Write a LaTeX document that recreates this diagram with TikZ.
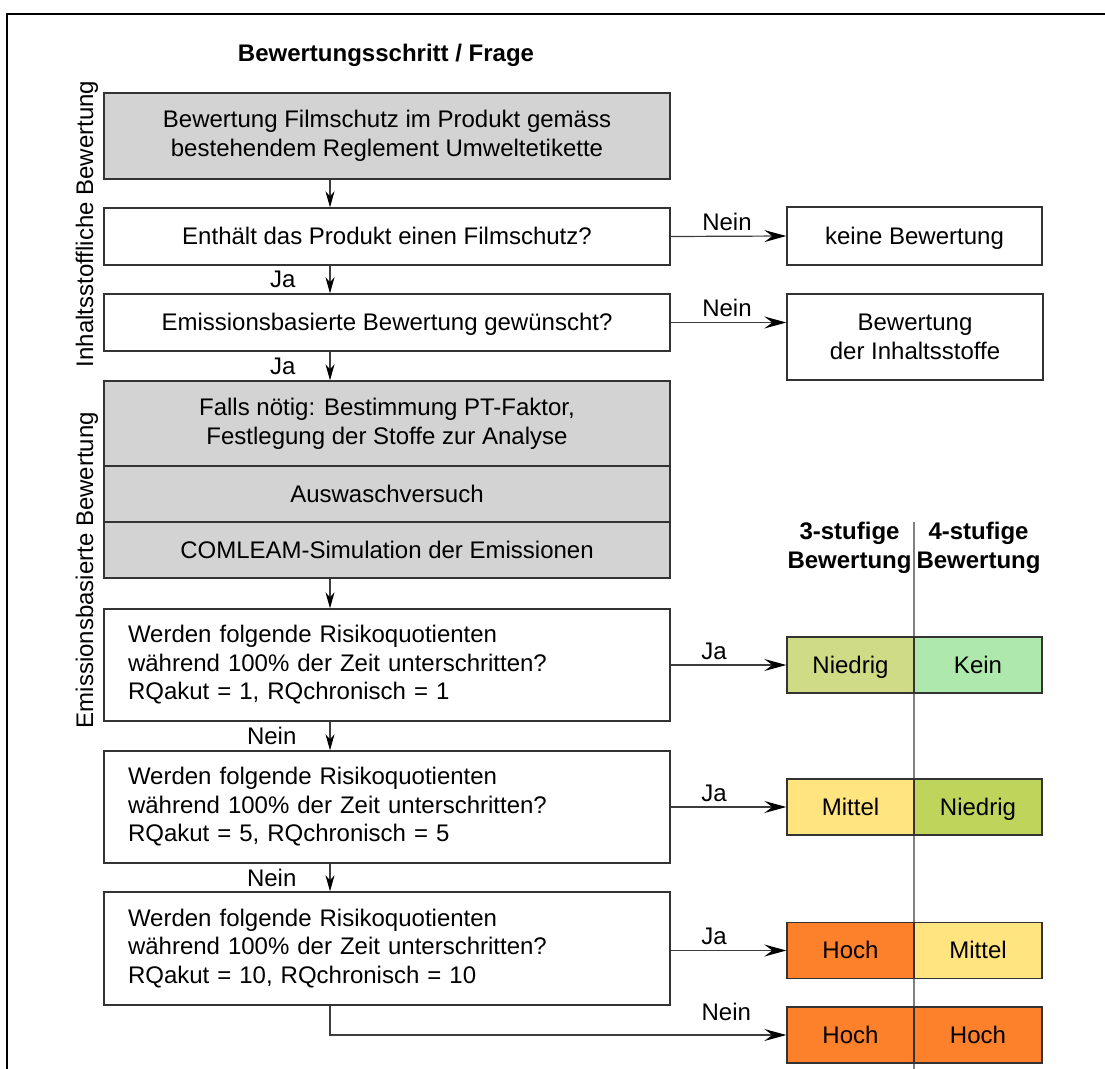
\documentclass[tikz,border=0pt]{standalone}
\usepackage{fontspec}
\setmainfont{Liberation Sans}
\usetikzlibrary{arrows.meta,calc}
\definecolor{boxgray}{RGB}{211,211,211}
\definecolor{edge}{RGB}{51,51,51}
\definecolor{lineC}{RGB}{60,60,60}
\definecolor{divC}{RGB}{128,128,128}
\definecolor{cNiedrigA}{RGB}{207,220,133}
\definecolor{cKein}{RGB}{174,232,172}
\definecolor{cMittel}{RGB}{255,228,128}
\definecolor{cNiedrigB}{RGB}{190,212,90}
\definecolor{cHoch}{RGB}{253,128,42}
\tikzset{
  every node/.style={font=\fontsize{24}{29}\selectfont},
  sl/.style={text height=21.7pt, text depth=5.1pt},
  stepbox/.style={draw=edge, line width=1.4pt, minimum width=566pt, inner sep=0pt, align=center},
  graybox/.style={stepbox, fill=boxgray},
  qbox/.style={stepbox, minimum height=112pt, text width=518pt, align=left, font=\fontsize{24}{28.5}\selectfont},
  outbox/.style={draw=edge, line width=1.4pt, inner sep=0pt, align=center},
  resbox/.style={draw=edge, line width=1.4pt, inner sep=0pt, minimum height=56pt, sl},
  lbl/.style={inner sep=0pt},
  varr/.style={draw=lineC, line width=1.2pt, -{Stealth[length=16pt,width=9pt,inset=5pt,color=black]}},
  harr/.style={draw=lineC, line width=1.2pt, -{Stealth[length=22pt,width=12pt,inset=8pt,color=black]}},
}
\begin{document}
\begin{tikzpicture}[x=1pt,y=-1pt]
\useasboundingbox (0,0) rectangle (1105,1068);
% frame
\draw[line width=2pt, black] (7,1075) -- (7,14) -- (1110,14);
\coordinate (ax) at (330,0);

% header
\node[lbl, font=\fontsize{24}{29}\selectfont\bfseries] (head) at (386,55) {Bewertungsschritt / Frage};
\node[lbl, rotate=90] (sideA) at (87,224) {Inhaltsstoffliche Bewertung};
\node[lbl, rotate=90] (sideB) at (87,570) {Emissionsbasierte Bewertung};

% main column
\node[graybox, minimum height=86pt] (b1) at (387,136) {Bewertung Filmschutz im Produkt gemäss\\bestehendem Reglement Umweltetikette};
\node[stepbox, sl, minimum height=57pt] (b2) at (387,236.5) {Enthält das Produkt einen Filmschutz?};
\node[stepbox, sl, minimum height=57pt] (b3) at (387,322.5) {Emissionsbasierte Bewertung gewünscht?};
\node[graybox, minimum height=85pt] (g1) at (387,423.5) {Falls nötig: Bestimmung PT-Faktor,\\Festlegung der Stoffe zur Analyse};
\node[graybox, sl, minimum height=56pt] (g2) at (387,494) {Auswaschversuch};
\node[graybox, sl, minimum height=56pt] (g3) at (387,550) {COMLEAM-Simulation der Emissionen};
\node[qbox] (q1) at (387,665) {Werden folgende Risikoquotienten\\während 100\% der Zeit unterschritten?\\RQakut = 1, RQchronisch = 1};
\node[qbox] (q2) at (387,807) {Werden folgende Risikoquotienten\\während 100\% der Zeit unterschritten?\\RQakut = 5, RQchronisch = 5};
\node[qbox, minimum height=113pt] (q3) at (387,948.5) {Werden folgende Risikoquotienten\\während 100\% der Zeit unterschritten?\\RQakut = 10, RQchronisch = 10};

% right outcomes
\node[outbox, sl, minimum width=255pt, minimum height=58pt] (kb) at (914.5,236) {keine Bewertung};
\node[outbox, minimum width=256pt, minimum height=86pt] (bi) at (915,337) {Bewertung\\der Inhaltsstoffe};

% result headers
\node[lbl, align=center, font=\fontsize{24}{29}\selectfont\bfseries] (h3) at (849.5,548) {3-stufige\\Bewertung};
\node[lbl, align=center, font=\fontsize{24}{29}\selectfont\bfseries] (h4) at (978.5,548) {4-stufige\\Bewertung};
\coordinate (divtop) at (914,522);
\coordinate (divbot) at (914,1075);
\draw[divC, line width=1.4pt] (divtop) -- (divbot);

% results
\node[resbox, fill=cNiedrigA, minimum width=127pt] (ra1) at (850.5,665) {Niedrig};
\node[resbox, fill=cKein, minimum width=128pt] (rb1) at (978,665) {Kein};
\node[resbox, fill=cMittel, minimum width=127pt] (ra2) at (850.5,807) {Mittel};
\node[resbox, fill=cNiedrigB, minimum width=128pt] (rb2) at (978,807) {Niedrig};
\node[resbox, fill=cHoch, minimum width=127pt] (ra3) at (850.5,950.5) {Hoch};
\node[resbox, fill=cMittel, minimum width=128pt] (rb3) at (978,950.5) {Mittel};
\node[resbox, fill=cHoch, minimum width=127pt] (ra4) at (850.5,1035) {Hoch};
\node[resbox, fill=cHoch, minimum width=128pt] (rb4) at (978,1035) {Hoch};

% vertical connectors
\draw[varr] (b1.south -| ax) -- (b2.north -| ax);
\draw[varr] (b2.south -| ax) -- node[lbl, anchor=east, xshift=-34pt] {Ja} (b3.north -| ax);
\draw[varr] (b3.south -| ax) -- node[lbl, anchor=east, xshift=-34pt] {Ja} (g1.north -| ax);
\draw[varr] (g3.south -| ax) -- (q1.north -| ax);
\draw[varr] (q1.south -| ax) -- node[lbl, anchor=east, xshift=-33pt] {Nein} (q2.north -| ax);
\draw[varr] (q2.south -| ax) -- node[lbl, anchor=east, xshift=-33pt] {Nein} (q3.north -| ax);

% horizontal connectors
\draw[harr] (b2.east) -- node[lbl, pos=0, anchor=base west, xshift=31pt, yshift=6pt] {Nein} (kb.west);
\draw[harr] (b3.east) -- node[lbl, pos=0, anchor=base west, xshift=31pt, yshift=6pt] {Nein} (bi.west |- b3.east);
\draw[harr] (q1.east) -- node[lbl, pos=0, anchor=base west, xshift=30pt, yshift=6pt] {Ja} (ra1.west);
\draw[harr] (q2.east) -- node[lbl, pos=0, anchor=base west, xshift=30pt, yshift=6pt] {Ja} (ra2.west);
\draw[harr] (q3.east |- ra3.west) -- node[lbl, pos=0, anchor=base west, xshift=30pt, yshift=6pt] {Ja} (ra3.west);
\draw[harr] (q3.south -| ax) |- node[lbl, pos=0.5, anchor=base west, xshift=371pt, yshift=15pt] {Nein} (ra4.west);
\end{tikzpicture}
\end{document}
